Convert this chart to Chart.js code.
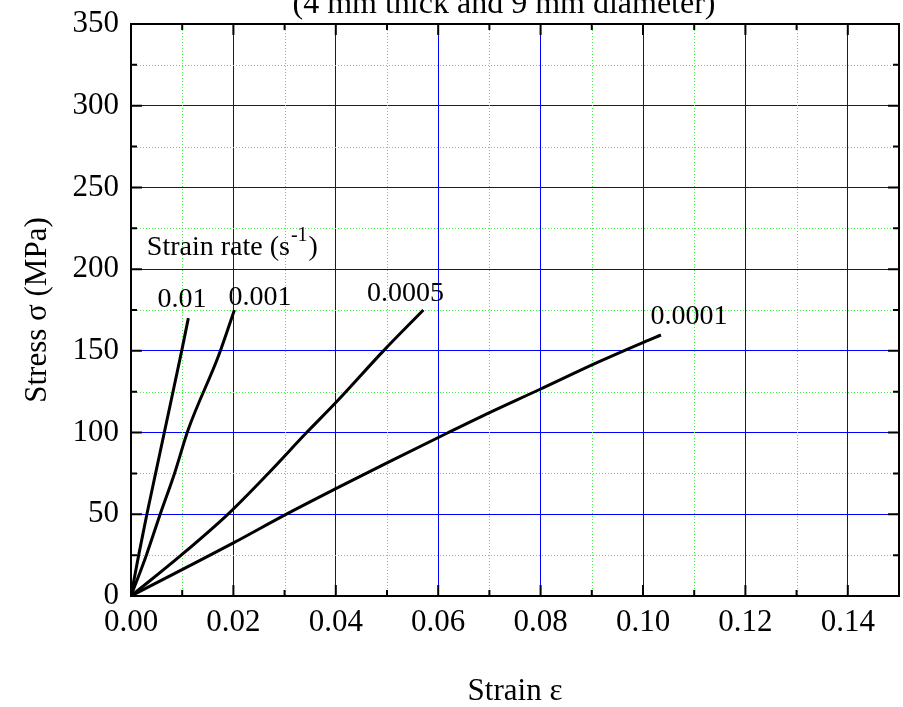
<!DOCTYPE html>
<html>
<head>
<meta charset="utf-8">
<script src="https://cdn.jsdelivr.net/npm/chart.js@4.4.0/dist/chart.umd.min.js"></script>
<style>
html, body { margin: 0; padding: 0; background: #fff; }
</style>
</head>
<body>
<canvas id="stress-chart" width="903" height="707"></canvas>
<script>
// Stress-strain curves, one pair of arrays per strain rate
const rate001Strain = [0, 0.0015, 0.0031, 0.0048, 0.0065, 0.0099, 0.0112];
const rate001Stress = [0, 25, 50, 75, 100, 150, 170];

const rate0001Strain = [0, 0.0030, 0.0057, 0.0085, 0.0112, 0.0171, 0.0202];
const rate0001Stress = [0, 25, 50, 75, 102, 147, 175];

const rate00005Strain = [0, 0.0098, 0.0189, 0.0268, 0.0343, 0.0402, 0.0493, 0.0571];
const rate00005Stress = [0, 25, 50, 75, 100, 119, 150, 175];

const rate00001Strain = [0, 0.0200, 0.0300, 0.0402, 0.0500, 0.0617, 0.0682, 0.0799, 0.0910, 0.1002, 0.1035];
const rate00001Stress = [0, 32.5, 49.5, 66, 81.5, 99.6, 109.5, 126.5, 142.8, 155.4, 159.7];

// curve labels, placed in data units (strain, stress at text baseline)
const curveLabels = ['0.01', '0.001', '0.0005', '0.0001'];
const labelStrain = [0.00996, 0.0252, 0.0536, 0.1090];
const labelStress = [177, 178, 180.5, 166.5];

// axis ranges and ticks
const strainMax = 0.15, strainStep = 0.02, strainMinor = 0.01;
const stressMax = 350, stressStep = 50, stressMinor = 25;

const titleText = '(4 mm thick and 9 mm diameter)';
const FONT = '"Liberation Serif", "Times New Roman", serif';

function toPoints(xs, ys) {
  return xs.map((x, i) => ({ x: x, y: ys[i] }));
}

function curve(xs, ys) {
  return {
    data: toPoints(xs, ys),
    borderColor: '#000',
    borderWidth: 3,
    pointRadius: 0,
    cubicInterpolationMode: 'monotone',
    fill: false
  };
}

// minor dotted grid, inward ticks and the box frame
const framePlugin = {
  id: 'frame',
  beforeDatasetsDraw(chart) {
    const { ctx, chartArea: a, scales: { x, y } } = chart;
    ctx.save();
    ctx.strokeStyle = '#44ee44';
    ctx.lineWidth = 1;
    ctx.setLineDash([1, 2]);
    for (let v = strainMinor; v < strainMax; v += strainStep) {
      const px = Math.round(x.getPixelForValue(v)) + 0.5;
      ctx.beginPath(); ctx.moveTo(px, a.top); ctx.lineTo(px, a.bottom); ctx.stroke();
    }
    for (let v = stressMinor; v < stressMax; v += stressStep) {
      const py = Math.round(y.getPixelForValue(v)) + 0.5;
      ctx.beginPath(); ctx.moveTo(a.left, py); ctx.lineTo(a.right, py); ctx.stroke();
    }
    ctx.restore();
  },
  afterDatasetsDraw(chart) {
    const { ctx, chartArea: a, scales: { x, y } } = chart;
    ctx.save();
    ctx.strokeStyle = '#000';
    ctx.lineWidth = 2;
    ctx.setLineDash([]);
    // x ticks (bottom and top)
    for (let i = 0; i * strainMinor < strainMax - 1e-9; i++) {
      const px = x.getPixelForValue(i * strainMinor);
      const len = i % 2 === 0 ? 11 : 6;
      ctx.beginPath();
      ctx.moveTo(px, a.bottom); ctx.lineTo(px, a.bottom - len);
      ctx.moveTo(px, a.top); ctx.lineTo(px, a.top + len);
      ctx.stroke();
    }
    // y ticks (left and right)
    for (let i = 0; i * stressMinor <= stressMax; i++) {
      const py = y.getPixelForValue(i * stressMinor);
      const len = i % 2 === 0 ? 11 : 6;
      ctx.beginPath();
      ctx.moveTo(a.left, py); ctx.lineTo(a.left + len, py);
      ctx.moveTo(a.right, py); ctx.lineTo(a.right - len, py);
      ctx.stroke();
    }
    ctx.strokeRect(a.left, a.top, a.right - a.left, a.bottom - a.top);
    ctx.restore();
  },
  afterDraw(chart) {
    const { ctx, scales: { x, y } } = chart;
    ctx.save();
    ctx.fillStyle = '#000';
    // title, partly cut off at the top edge as in the original
    ctx.font = '32px ' + FONT;
    ctx.textAlign = 'center';
    ctx.textBaseline = 'alphabetic';
    ctx.fillText(titleText, 504, 13);

    // strain rate labels
    ctx.font = '28px ' + FONT;
    curveLabels.forEach((t, i) => {
      ctx.fillText(t, x.getPixelForValue(labelStrain[i]), y.getPixelForValue(labelStress[i]));
    });

    // "Strain rate (s^-1)" heading
    ctx.textAlign = 'left';
    let hx = x.getPixelForValue(0.0031);
    const hy = y.getPixelForValue(208.7);
    const part1 = 'Strain rate (s';
    ctx.fillText(part1, hx, hy);
    hx += ctx.measureText(part1).width;
    ctx.font = '20px ' + FONT;
    ctx.fillText('-1', hx + 1, hy - 14);
    hx += ctx.measureText('-1').width + 2;
    ctx.font = '28px ' + FONT;
    ctx.fillText(')', hx, hy);
    ctx.restore();
  }
};

new Chart(document.getElementById('stress-chart'), {
  type: 'line',
  data: {
    datasets: [
      curve(rate001Strain, rate001Stress),
      curve(rate0001Strain, rate0001Stress),
      curve(rate00005Strain, rate00005Stress),
      curve(rate00001Strain, rate00001Stress)
    ]
  },
  options: {
    responsive: false,
    animation: false,
    layout: { padding: { top: 24, right: 4, left: 0, bottom: 0 } },
    plugins: { legend: { display: false }, tooltip: { enabled: false } },
    scales: {
      x: {
        type: 'linear',
        min: 0,
        max: strainMax,
        afterFit(scale) { scale.height = 111; },
        ticks: {
          stepSize: strainStep,
          includeBounds: false,
          padding: 8,
          color: '#000',
          font: { family: FONT, size: 31 },
          maxRotation: 0,
          callback: v => v.toFixed(2)
        },
        grid: { color: '#0000ff', lineWidth: 1, drawTicks: false },
        border: { display: false },
        title: {
          display: true,
          text: 'Strain ε',
          color: '#000',
          font: { family: FONT, size: 31, lineHeight: 1 },
          padding: { top: 0, bottom: 0 }
        }
      },
      y: {
        type: 'linear',
        min: 0,
        max: stressMax,
        afterFit(scale) { scale.width = 131; },
        ticks: {
          stepSize: stressStep,
          padding: 12,
          color: '#000',
          // small lineHeight keeps the top label from pushing the plot area down
          font: { family: FONT, size: 31, lineHeight: 0.5 },
          callback: v => String(v)
        },
        grid: { color: '#0000ff', lineWidth: 1, drawTicks: false },
        border: { display: false },
        title: {
          display: true,
          text: 'Stress σ (MPa)',
          color: '#000',
          font: { family: FONT, size: 31, lineHeight: 1 },
          padding: { top: 22, bottom: 0 }
        }
      }
    }
  },
  plugins: [framePlugin]
});
</script>
</body>
</html>
